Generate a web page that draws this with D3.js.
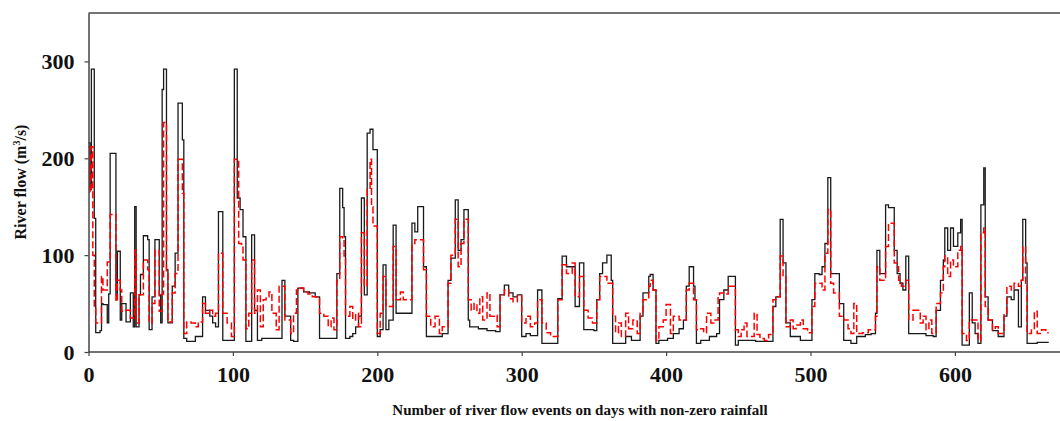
<!DOCTYPE html>
<html lang="en">
<head>
<meta charset="UTF-8">
<title>River flow events</title>
<script src="https://cdn.jsdelivr.net/npm/d3@7/dist/d3.min.js"></script>
<style>
  body { margin: 0; background: #fff; }
  svg { display: block; }
  .tick text { font-family: "Liberation Serif", "Times New Roman", serif; font-weight: bold; font-size: 22px; fill: #111; }
  .title { font-family: "Liberation Serif", "Times New Roman", serif; font-weight: bold; fill: #111; }
</style>
</head>
<body>
<div id="chart"></div>
<script>
// tick labels
var xTicks = [0, 100, 200, 300, 400, 500, 600];
var yTicks = [0, 100, 200, 300];
var nEvents = 665;

// observed flow (black), read as steps: [event index where the step starts, flow m3/s]
var observed = [
  [0,216],[1,170],[2,292],[4,138],[5,20],[8,22],[9,50],[10,49],[13,30],[14,60],[15,205],[19,59],
  [20,104],[22,33],[23,50],[26,31],[29,61],[31,26],[32,150],[33,26],[35,59],[36,80],[38,120],
  [41,116],[42,23],[44,57],[46,116],[49,59],[50,30],[51,271],[52,292],[54,85],[55,30],[58,68],
  [60,102],[62,257],[65,219],[66,14],[68,11],[74,16],[79,57],[81,43],[84,37],[86,30],[88,26],
  [90,145],[93,12],[101,292],[103,159],[105,147],[107,119],[109,11],[113,121],[115,43],[117,12],
  [120,14],[134,74],[136,37],[140,12],[142,11],[145,66],[149,62],[153,61],[157,57],[160,14],
  [172,81],[174,169],[176,149],[177,119],[178,14],[181,16],[183,19],[185,26],[187,37],[189,159],
  [191,59],[193,226],[195,230],[197,209],[200,16],[202,23],[204,90],[206,23],[208,33],[211,131],
  [213,40],[224,133],[226,124],[228,150],[232,88],[234,16],[245,19],[249,74],[251,97],[254,157],
  [256,105],[258,116],[260,147],[263,33],[264,26],[270,24],[276,22],[282,21],[285,59],[288,69],
  [291,61],[294,57],[297,59],[300,16],[303,19],[306,17],[311,64],[314,9],[325,55],[328,99],
  [331,88],[335,88],[337,47],[340,92],[343,23],[350,22],[352,54],[354,81],[356,92],[359,100],
  [362,74],[363,9],[372,16],[376,12],[382,37],[384,61],[388,78],[389,80],[391,64],[393,9],
  [395,12],[401,14],[405,19],[409,24],[412,33],[414,68],[416,88],[419,68],[420,54],[421,9],
  [424,12],[430,16],[435,19],[437,54],[440,64],[443,78],[448,7],[450,12],[462,11],[474,47],
  [476,57],[479,137],[481,92],[483,30],[486,16],[493,12],[501,54],[503,81],[506,80],[508,88],
  [510,112],[512,180],[514,81],[520,50],[523,12],[528,9],[532,16],[538,18],[542,19],[545,40],
  [546,105],[548,81],[552,152],[554,149],[558,105],[560,81],[562,71],[564,64],[566,99],[568,19],
  [574,19],[580,17],[585,16],[587,43],[590,74],[592,95],[593,128],[595,105],[597,128],[599,109],
  [602,123],[604,137],[605,7],[610,61],[612,30],[614,19],[616,9],[618,152],[620,190],[621,57],
  [623,33],[626,22],[630,16],[634,37],[636,57],[639,54],[641,64],[644,26],[646,74],[647,137],
  [649,92],[650,9],[657,10]
];

// predicted flow (red dashed), same step form
var predicted = [
  [0,212],[1,165],[2,212],[3,100],[4,45],[5,30],[9,78],[10,64],[13,93],[15,142],[19,52],[20,74],
  [22,64],[23,42],[26,43],[29,35],[32,105],[33,30],[35,59],[38,95],[41,85],[42,30],[44,50],
  [46,105],[49,42],[51,60],[52,237],[54,81],[55,31],[58,61],[60,81],[62,199],[65,164],[66,19],
  [68,31],[71,30],[74,26],[76,31],[79,50],[81,40],[84,43],[86,37],[88,40],[90,102],[93,40],
  [96,30],[99,16],[101,199],[104,112],[106,109],[107,95],[109,24],[111,40],[113,95],[115,40],
  [117,64],[119,26],[121,54],[123,57],[125,62],[127,40],[130,23],[132,68],[136,33],[140,19],
  [142,40],[144,64],[146,66],[149,62],[152,60],[155,57],[158,55],[160,40],[163,37],[166,26],
  [168,35],[170,23],[172,74],[174,119],[176,116],[177,99],[178,37],[181,47],[183,33],[185,40],
  [187,26],[189,123],[191,68],[193,168],[195,199],[196,150],[197,130],[200,19],[202,40],[204,78],
  [206,47],[211,109],[213,54],[216,62],[218,54],[224,112],[226,116],[232,85],[234,37],[237,26],
  [240,37],[243,19],[245,26],[249,71],[251,100],[254,137],[256,88],[258,112],[260,137],[263,54],
  [265,43],[267,50],[269,40],[271,57],[273,33],[276,61],[278,37],[281,38],[283,26],[285,59],
  [288,64],[291,55],[294,52],[297,58],[300,30],[303,37],[306,26],[309,30],[311,54],[314,30],
  [317,20],[320,16],[325,54],[328,90],[331,81],[335,92],[337,57],[340,78],[343,43],[346,35],
  [349,30],[352,54],[354,78],[359,71],[363,37],[365,20],[367,30],[369,16],[372,40],[374,24],
  [377,33],[380,19],[382,40],[384,54],[388,68],[389,74],[391,64],[393,12],[395,26],[398,33],
  [400,49],[403,19],[405,37],[409,33],[414,64],[416,71],[419,54],[421,23],[424,24],[426,20],
  [428,40],[431,30],[433,33],[436,57],[437,61],[440,60],[443,68],[448,23],[450,16],[452,23],
  [454,30],[456,16],[461,40],[463,18],[465,14],[468,12],[471,18],[474,54],[476,57],[479,99],
  [481,78],[483,26],[486,33],[488,24],[490,28],[493,33],[495,24],[498,20],[501,47],[503,71],
  [508,64],[510,102],[512,147],[514,71],[516,61],[520,37],[523,33],[526,24],[528,19],[530,50],
  [532,19],[536,20],[540,23],[545,37],[546,88],[548,74],[552,109],[554,133],[558,92],[560,88],
  [561,74],[563,68],[566,74],[568,33],[571,43],[574,43],[576,30],[578,37],[580,23],[582,33],
  [584,19],[587,50],[590,61],[592,88],[593,99],[595,78],[597,95],[599,88],[602,105],[604,109],
  [605,19],[608,12],[610,33],[616,12],[618,123],[620,128],[621,47],[623,33],[626,23],[628,26],
  [630,19],[634,40],[636,68],[639,64],[641,71],[644,68],[646,74],[647,109],[649,71],[650,19],
  [653,23],[655,42],[657,19],[660,23],[663,20]
];

var w = 1060, h = 421;
var mLeft = 88.5, mTop = 13, mBottom = 352;

var svg = d3.select("#chart").append("svg")
  .attr("width", w)
  .attr("height", h);

// axis runs to 700, the picture is cut off at the right edge
var x = d3.scaleLinear().domain([0, 700]).range([mLeft, mLeft + 700 * 1.444]);
var y = d3.scaleLinear().domain([0, 350]).range([mBottom, mTop]);

// closes each series with its last value held to the final event
function steps(s) {
  return s.concat([[nEvents, s[s.length - 1][1]]]);
}

var line = d3.line()
  .x(function(d) { return x(d[0]); })
  .y(function(d) { return y(d[1]); })
  .curve(d3.curveStepAfter);

svg.append("path")
  .datum(steps(observed))
  .attr("fill", "none")
  .attr("stroke", "#1a1a1a")
  .attr("stroke-width", 1.3)
  .attr("d", line);

svg.append("path")
  .datum(steps(predicted))
  .attr("fill", "none")
  .attr("stroke", "#ff0000")
  .attr("stroke-width", 1.5)
  .attr("stroke-dasharray", "7,3")
  .attr("d", line);

// frame: top border
svg.append("line")
  .attr("x1", mLeft).attr("x2", w)
  .attr("y1", y(350)).attr("y2", y(350))
  .attr("stroke", "#444").attr("stroke-width", 1.5);

var xAxis = svg.append("g")
  .attr("transform", "translate(0," + mBottom + ")")
  .call(d3.axisBottom(x).tickValues(xTicks).tickSize(4).tickSizeOuter(0).tickPadding(10));

var yAxis = svg.append("g")
  .attr("transform", "translate(" + mLeft + ",0)")
  .call(d3.axisLeft(y).tickValues(yTicks).tickSize(4).tickSizeOuter(0).tickPadding(10));

[xAxis, yAxis].forEach(function(g) {
  g.select(".domain").attr("stroke", "#444").attr("stroke-width", 1.5);
  g.selectAll(".tick line").attr("stroke", "#444").attr("stroke-width", 1.2);
  g.selectAll(".tick text").attr("font-size", null).attr("font-family", null);
});
xAxis.select(".domain").attr("d", "M" + mLeft + ",0H" + w);

svg.append("text")
  .attr("class", "title")
  .attr("x", 580)
  .attr("y", 415)
  .attr("text-anchor", "middle")
  .attr("font-size", "15px")
  .text("Number of river flow events on days with non-zero rainfall");

var yt = svg.append("text")
  .attr("class", "title")
  .attr("transform", "translate(26,182) rotate(-90)")
  .attr("text-anchor", "middle")
  .attr("font-size", "16px");
yt.append("tspan").text("River flow (m");
yt.append("tspan").attr("font-size", "10px").attr("dy", "-6").text("3");
yt.append("tspan").attr("dy", "6").text("/s)");
</script>
</body>
</html>
